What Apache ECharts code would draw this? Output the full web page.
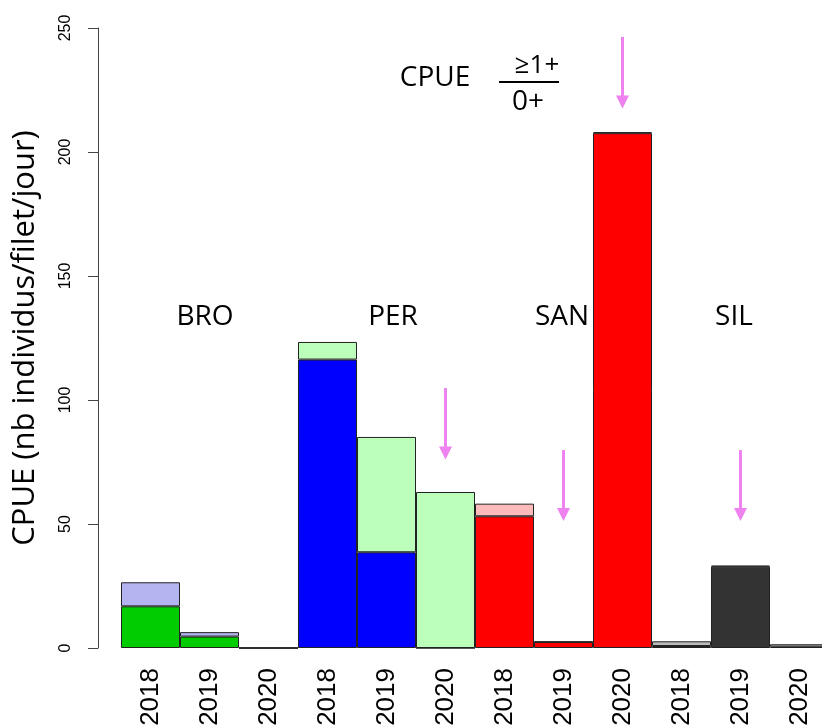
<!DOCTYPE html>
<html>
<head>
<meta charset="utf-8">
<script src="https://cdn.jsdelivr.net/npm/echarts@6/dist/echarts.min.js"></script>
<style>
  html, body { margin: 0; padding: 0; background: #fff; }
  #chart { width: 822px; height: 728px; }
</style>
</head>
<body>
<div id="chart"></div>
<script>
// sites and years (x axis)
const sites = ['BRO', 'PER', 'SAN', 'SIL'];
const years = ['2018', '2019', '2020'];

// CPUE >=1+ (dark, bottom) and total CPUE (top of bar), one per site/year
const cpueAdult = [16.8, 4.6, 0, 116.3, 38.6, 0, 53.1, 2.4, 207.6, 0.8, 32.8, 0.5];
const cpueTotal = [26.5, 6.4, 0, 123.4, 85.1, 62.9, 58.2, 2.6, 208.0, 2.7, 33.2, 1.5];

// colours per site: dark part, light part
const darkColors = ['#00CC00', '#0000FF', '#FF0000', '#333333'];
const lightColors = ['#B4B4F0', '#BBFFBB', '#FFBBBB', '#BBBBBB'];

// arrows: [category, start value, end value]
const arrows = [
  ['PER-2020', 104.8, 78.6],
  ['SAN-2019', 79.8, 53.8],
  ['SAN-2020', 246.4, 220.2],
  ['SIL-2019', 79.8, 53.8],
];

const yTicks = [0, 50, 100, 150, 200, 250];

const categories = [];
sites.forEach(s => years.forEach(y => categories.push(s + '-' + y)));

const chart = echarts.init(document.getElementById('chart'));
const font = 'Open Sans';

const lowerData = cpueAdult.map((v, i) => ({
  value: v,
  itemStyle: { color: darkColors[Math.floor(i / 3)] },
}));
const upperData = cpueTotal.map((v, i) => ({
  value: +(v - cpueAdult[i]).toFixed(2),
  itemStyle: { color: lightColors[Math.floor(i / 3)] },
}));

const barStyle = { borderColor: '#222', borderWidth: 1 };

chart.setOption({
  animation: false,
  grid: { left: 121, top: 28, width: 708, bottom: 80, outerBoundsMode: 'none', containLabel: false },
  xAxis: {
    type: 'category',
    data: categories,
    axisLine: { show: false },
    axisTick: { show: false },
    axisLabel: {
      rotate: 90, interval: 0, margin: 20,
      fontSize: 26, fontFamily: 'Liberation Sans', color: '#000',
      formatter: v => v.split('-')[1],
    },
  },
  yAxis: {
    type: 'value',
    min: 0, max: yTicks[yTicks.length - 1], interval: 50,
    offset: 23,
    splitLine: { show: false },
    axisLine: { show: true, lineStyle: { color: '#444', width: 1 } },
    axisTick: { show: true, length: 10, lineStyle: { color: '#444' } },
    axisLabel: {
      rotate: 90, margin: 24,
      fontSize: 16, fontFamily: 'Liberation Sans', color: '#000',
    },
    name: 'CPUE (nb individus/filet/jour)',
    nameLocation: 'middle',
    nameRotate: 90,
    nameGap: 57,
    nameTextStyle: { fontSize: 31, fontFamily: font, color: '#000' },
  },
  series: [
    {
      type: 'bar', stack: 'cpue', data: lowerData,
      barWidth: '100%', barCategoryGap: 0,
      itemStyle: barStyle,
      silent: true,
    },
    {
      type: 'bar', stack: 'cpue', data: upperData,
      barWidth: '100%', barCategoryGap: 0,
      itemStyle: barStyle,
      silent: true,
      markLine: {
        silent: true,
        symbol: ['none', 'triangle'],
        symbolSize: 13,
        label: { show: false },
        lineStyle: { color: '#EE82EE', width: 3, type: 'solid' },
        emphasis: { disabled: true },
        data: arrows.map(a => [{ coord: [a[0], a[1]] }, { coord: [a[0], a[2]] }]),
      },
    },
  ],
  graphic: [
    ...sites.map((s, i) => ({
      type: 'text',
      x: [205, 393, 562, 734][i], y: 317,
      style: { text: s, font: '28px "Open Sans"', fill: '#000', align: 'center', verticalAlign: 'middle' },
    })),
    {
      type: 'text', x: 435, y: 78,
      style: { text: 'CPUE', font: '28px "Open Sans"', fill: '#000', align: 'center', verticalAlign: 'middle' },
    },
    {
      type: 'text', x: 537, y: 66,
      style: { text: '≥1+', font: '26px "Open Sans"', fill: '#000', align: 'center', verticalAlign: 'middle' },
    },
    {
      type: 'line',
      shape: { x1: 499, y1: 82, x2: 559, y2: 82 },
      style: { stroke: '#000', lineWidth: 2 },
    },
    {
      type: 'text', x: 528, y: 102,
      style: { text: '0+', font: '28px "Open Sans"', fill: '#000', align: 'center', verticalAlign: 'middle' },
    },
  ],
});
</script>
</body>
</html>
